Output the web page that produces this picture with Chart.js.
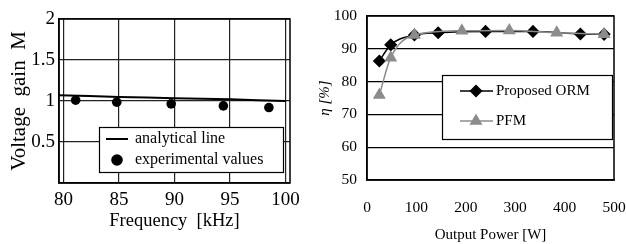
<!DOCTYPE html>
<html><head><meta charset="utf-8">
<script src="https://cdn.jsdelivr.net/npm/chart.js@4/dist/chart.umd.min.js"></script>
<style>
html,body{margin:0;padding:0;background:#fff;}
#wrap{position:relative;width:626px;height:244px;overflow:hidden;}
#c1{position:absolute;left:0;top:0;}
#c2{position:absolute;left:310px;top:0;}
</style></head>
<body><div id="wrap"><canvas id="c1" width="310" height="244"></canvas><canvas id="c2" width="316" height="244"></canvas></div>
<script>
// ----- Left chart data -----
const freqAnalytical = [79.6, 85, 90, 95, 100];
const gainAnalytical = [1.07, 1.05, 1.035, 1.02, 1.0];
const freqExperimental = [81.1, 84.8, 89.7, 94.4, 98.5];
const gainExperimental = [1.01, 0.985, 0.965, 0.94, 0.92];
const leftXTicks = [80, 85, 90, 95, 100];
const leftYTicks = [0.5, 1, 1.5, 2];
const leftLegend = ['analytical line', 'experimental values'];

// ----- Right chart data -----
const powerORM = [25, 48, 96, 144, 240, 336, 432, 480];
const effORM = [86.3, 91.2, 94.2, 94.9, 95.3, 95.3, 94.5, 94.4];
const powerPFM = [25, 48, 96, 192, 288, 384, 480];
const effPFM = [75.9, 87.3, 94.2, 95.5, 95.6, 94.9, 94.4];
const rightXTicks = [0, 100, 200, 300, 400, 500];
const rightYTicks = [50, 60, 70, 80, 90, 100];
const rightLegend = ['Proposed ORM', 'PFM'];

const SERIF = "'Liberation Serif', 'Times New Roman', serif";
const pts = (xs, ys) => xs.map((x, i) => ({x, y: ys[i]}));
const plain = v => String(v);

function drawMarker(ctx, style, r, x, y) {
  if (Chart.helpers && Chart.helpers.drawPoint) {
    Chart.helpers.drawPoint(ctx, {pointStyle: style, radius: r, borderWidth: 1, rotation: 0}, x, y);
    return;
  }
  ctx.beginPath(); ctx.arc(x, y, r, 0, Math.PI * 2); ctx.fill();
}

function legendPlugin(cfg) {
  return {
    id: 'boxLegend',
    afterDatasetsDraw(chart) {
      const ctx = chart.ctx;
      ctx.save();
      ctx.fillStyle = '#fff';
      ctx.fillRect(cfg.x, cfg.y, cfg.w, cfg.h);
      ctx.strokeStyle = '#000';
      ctx.lineWidth = 1.2;
      ctx.strokeRect(cfg.x + 0.5, cfg.y + 0.5, cfg.w, cfg.h);
      ctx.font = cfg.font;
      ctx.textBaseline = 'middle';
      cfg.items.forEach((it, i) => {
        const ds = chart.data.datasets[i];
        const yy = it.y;
        if (it.line) {
          ctx.strokeStyle = ds.borderColor;
          ctx.lineWidth = ds.borderWidth;
          ctx.beginPath(); ctx.moveTo(it.lx0, yy); ctx.lineTo(it.lx1, yy); ctx.stroke();
        }
        if (it.marker) {
          ctx.fillStyle = ds.pointBackgroundColor;
          ctx.strokeStyle = ds.pointBorderColor;
          drawMarker(ctx, ds.pointStyle, ds.pointRadius, it.mx, yy);
        }
        ctx.fillStyle = '#000';
        ctx.fillText(it.label, it.tx, yy);
      });
      ctx.restore();
    }
  };
}

function framePlugin(id) {
  return {
    id,
    afterDraw(chart) {
      const a = chart.chartArea, ctx = chart.ctx;
      ctx.save(); ctx.strokeStyle = '#000'; ctx.lineWidth = 1.5;
      ctx.strokeRect(a.left, a.top, a.right - a.left, a.bottom - a.top);
      ctx.restore();
    }
  };
}

// ----- Left chart -----
new Chart(document.getElementById('c1'), {
  type: 'scatter',
  data: {
    datasets: [
      {label: leftLegend[0], data: pts(freqAnalytical, gainAnalytical), showLine: true,
       borderColor: '#000', borderWidth: 2, pointRadius: 0, tension: 0.3},
      {label: leftLegend[1], data: pts(freqExperimental, gainExperimental), showLine: false,
       pointStyle: 'circle', pointRadius: 4.8, pointBackgroundColor: '#000', pointBorderColor: '#000',
       borderColor: '#000', borderWidth: 0}
    ]
  },
  options: {
    responsive: false, animation: false, devicePixelRatio: 1,
    layout: {padding: {top: 19, right: 20, left: 7, bottom: 0}},
    plugins: {legend: {display: false}, tooltip: {enabled: false}},
    scales: {
      x: {type: 'linear', min: 79.6, max: 100.4,
        afterBuildTicks: s => { s.ticks = leftXTicks.map(v => ({value: v})); },
        afterFit: s => { s.height = 61; },
        grid: {color: '#222', lineWidth: 1.2, drawTicks: false},
        border: {color: '#000', width: 1.5},
        ticks: {color: '#000', font: {family: SERIF, size: 19}, padding: 6, maxRotation: 0, callback: plain},
        title: {display: true, text: 'Frequency  [kHz]', color: '#000', font: {family: SERIF, size: 18.5}, padding: {top: 0, bottom: 12}}
      },
      y: {type: 'linear', min: 0, max: 2,
        afterBuildTicks: s => { s.ticks = leftYTicks.map(v => ({value: v})); },
        afterFit: s => { s.width = 52; },
        grid: {color: '#222', lineWidth: 1.2, drawTicks: false},
        border: {color: '#000', width: 1.5},
        ticks: {color: '#000', font: {family: SERIF, size: 19}, padding: 4, callback: plain},
        title: {display: true, text: 'Voltage  gain  M', color: '#000', font: {family: SERIF, size: 21}, padding: 0}
      }
    }
  },
  plugins: [legendPlugin({
    x: 99, y: 127, w: 184, h: 45, font: '16px ' + SERIF,
    items: [
      {label: leftLegend[0], line: true, lx0: 106, lx1: 128, y: 139, tx: 135},
      {label: leftLegend[1], marker: true, mx: 117, y: 160, tx: 135}
    ]
  }), framePlugin('frame1')]
});

// ----- Right chart -----
new Chart(document.getElementById('c2'), {
  type: 'scatter',
  data: {
    datasets: [
      {label: rightLegend[0], data: pts(powerORM, effORM), showLine: true, order: 2,
       borderColor: '#000', borderWidth: 1.5, pointStyle: 'rectRot', pointRadius: 5.5,
       pointBackgroundColor: '#000', pointBorderColor: '#000', cubicInterpolationMode: 'monotone'},
      {label: rightLegend[1], data: pts(powerPFM, effPFM), showLine: true, order: 1,
       borderColor: '#8c8c8c', borderWidth: 1.5, pointStyle: 'triangle', pointRadius: 6,
       pointBackgroundColor: '#8c8c8c', pointBorderColor: '#8c8c8c', cubicInterpolationMode: 'monotone'}
    ]
  },
  options: {
    responsive: false, animation: false, devicePixelRatio: 1,
    layout: {padding: {top: 16, right: 12, left: 6, bottom: 0}},
    plugins: {legend: {display: false}, tooltip: {enabled: false}},
    scales: {
      x: {type: 'linear', min: 0, max: 500,
        afterBuildTicks: s => { s.ticks = rightXTicks.map(v => ({value: v})); },
        afterFit: s => { s.height = 64; s.paddingRight = 0; s.paddingLeft = 0; },
        grid: {display: false},
        border: {color: '#000', width: 1.5},
        ticks: {color: '#000', font: {family: SERIF, size: 15.5}, padding: 11, maxRotation: 0, callback: plain},
        title: {display: true, text: 'Output Power [W]', color: '#000', font: {family: SERIF, size: 15}, padding: {top: 4, bottom: 0}}
      },
      y: {type: 'linear', min: 50, max: 100,
        afterBuildTicks: s => { s.ticks = rightYTicks.map(v => ({value: v})); },
        afterFit: s => { s.width = 51; s.paddingTop = 0; s.paddingBottom = 0; },
        grid: {color: '#000', lineWidth: 1.2, drawTicks: false},
        border: {color: '#000', width: 1.5},
        ticks: {color: '#000', font: {family: SERIF, size: 15.5}, padding: 10, callback: plain},
        title: {display: true, text: 'η [%]', color: '#000', font: {family: SERIF, size: 15, style: 'italic'}, padding: 0}
      }
    }
  },
  plugins: [legendPlugin({
    x: 132, y: 75, w: 170, h: 64, font: '15px ' + SERIF,
    items: [
      {label: rightLegend[0], line: true, marker: true, lx0: 150, lx1: 183, mx: 166, y: 91, tx: 186},
      {label: rightLegend[1], line: true, marker: true, lx0: 150, lx1: 183, mx: 166, y: 121, tx: 186}
    ]
  }), framePlugin('frame2')]
});
</script>
</body></html>
